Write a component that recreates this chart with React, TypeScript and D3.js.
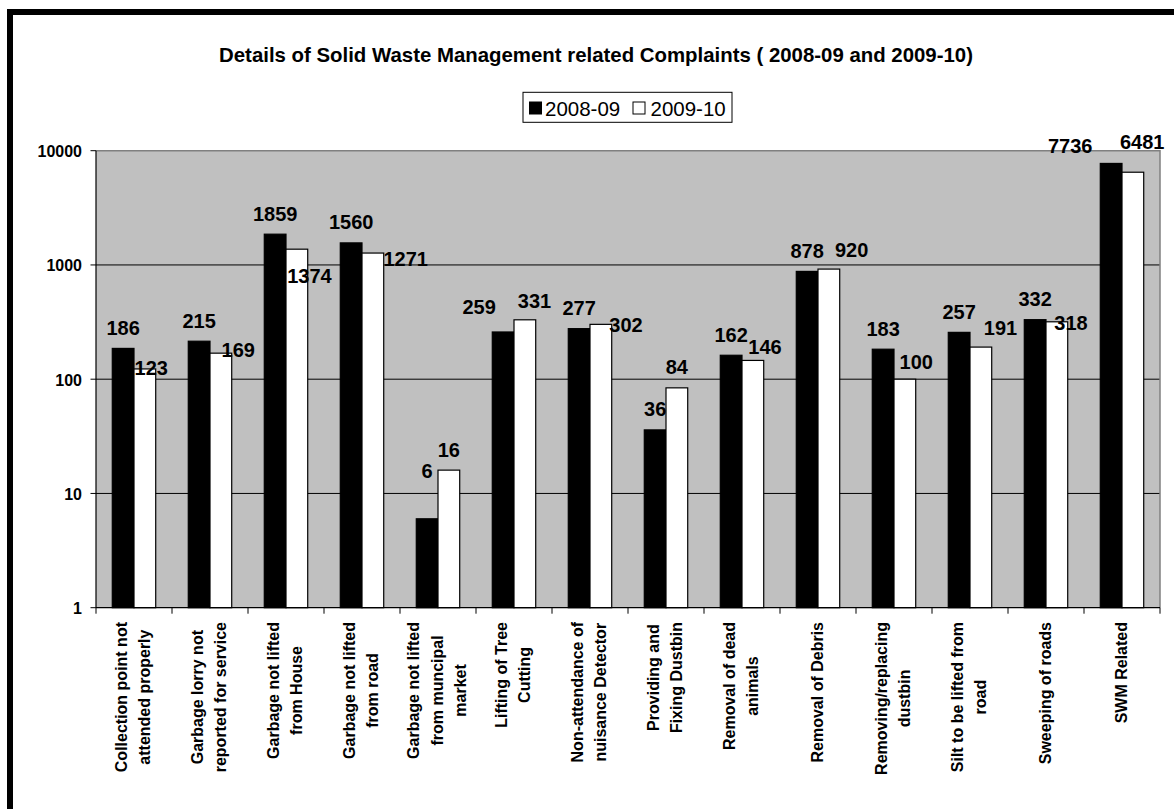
import React, { useEffect, useRef } from "react";
import * as d3 from "d3";

const categoryLines: string[][] = [
  ["Collection point not", "attended properly"],
  ["Garbage lorry not", "reported for service"],
  ["Garbage not lifted", "from House"],
  ["Garbage not lifted", "from road"],
  ["Garbage not lifted", "from muncipal", "market"],
  ["Lifting of Tree", "Cutting"],
  ["Non-attendance of", "nuisance Detector"],
  ["Providing and", "Fixing Dustbin"],
  ["Removal of dead", "animals"],
  ["Removal of Debris"],
  ["Removing/replacing", "dustbin"],
  ["Silt to be lifted from", "road"],
  ["Sweeping of roads"],
  ["SWM Related"],
];

const values2008 = [186, 215, 1859, 1560, 6, 259, 277, 36, 162, 878, 183, 257, 332, 7736];
const values2009 = [123, 169, 1374, 1271, 16, 331, 302, 84, 146, 920, 100, 191, 318, 6481];
const seriesNames = ["2008-09", "2009-10"];
const yTickValues = [1, 10, 100, 1000, 10000];
const titleText = "Details of Solid Waste Management related Complaints ( 2008-09 and 2009-10)";

// label placement nudges (pixels) relative to the default "outside end" spot
const nudge2008: [number, number][] = [
  [0, 0], [0, 0], [0, 0], [0, 0], [0, -27], [-24, -4.5], [0, 0],
  [0, 0], [0, 0], [0, 0], [0, 0], [0, 0], [0, 0], [-41, 3],
];
const nudge2009: [number, number][] = [
  [6.4, 19.6], [17.4, 17.2], [12.6, 47.6], [32.9, 26.4], [0, 0], [9.6, 1.4], [25.1, 21.5],
  [0, 0], [12.1, 7.1], [22.8, 1.7], [11.4, 3.6], [19.6, 1.4], [14.1, 21.8], [9.4, -9.7],
];

const FONT = "'Liberation Sans', Arial, Helvetica, sans-serif";
const W = 1174;
const H = 809;

export default function App() {
  const ref = useRef<SVGSVGElement | null>(null);

  useEffect(() => {
    const svg = d3.select(ref.current);
    svg.selectAll("*").remove();

    const left = 96, right = 1160, top = 150.7, bottom = 607.7;

    const x = d3.scaleBand<number>().domain(d3.range(categoryLines.length)).range([left, right]).padding(0);
    const x1 = d3.scaleBand<string>().domain(seriesNames).range([0, x.bandwidth()]).paddingInner(0).paddingOuter(0.75);
    const y = d3.scaleLog().domain([1, 10000]).range([bottom, top]);

    // outer frame
    svg.append("rect").attr("x", 10).attr("y", 12).attr("width", 1200).attr("height", 900)
      .attr("fill", "white").attr("stroke", "black").attr("stroke-width", 6);

    // title
    svg.append("text").attr("x", 596).attr("y", 61.7).attr("text-anchor", "middle")
      .attr("font-family", FONT).attr("font-weight", "bold").attr("font-size", 20.4)
      .text(titleText);

    // legend
    const lg = svg.append("g");
    lg.append("rect").attr("x", 523).attr("y", 92.3).attr("width", 209).attr("height", 30)
      .attr("fill", "white").attr("stroke", "black").attr("stroke-width", 1);
    const legendItems = [
      { name: seriesNames[0], fill: "black", sx: 529.5, tx: 545 },
      { name: seriesNames[1], fill: "white", sx: 633, tx: 650.5 },
    ];
    legendItems.forEach((it) => {
      lg.append("rect").attr("x", it.sx).attr("y", 102).attr("width", 12).attr("height", 12)
        .attr("fill", it.fill).attr("stroke", "black").attr("stroke-width", 1);
      lg.append("text").attr("x", it.tx).attr("y", 115.5).attr("font-family", FONT)
        .attr("font-size", 20.5).text(it.name);
    });

    // plot area
    svg.append("rect").attr("x", left).attr("y", top).attr("width", right - left).attr("height", bottom - top)
      .attr("fill", "#C0C0C0");

    // gridlines
    svg.append("g").selectAll("line").data(yTickValues.filter((v) => v > 1 && v < 10000)).join("line")
      .attr("x1", left).attr("x2", right).attr("y1", (d) => y(d)).attr("y2", (d) => y(d))
      .attr("stroke", "black").attr("stroke-width", 1);

    // plot border top/right
    svg.append("path").attr("d", `M${left},${top}H${right}V${bottom}`).attr("fill", "none")
      .attr("stroke", "#808080").attr("stroke-width", 1.5);

    // bars
    const seriesData = [values2008, values2009];
    const fills = ["black", "white"];
    seriesData.forEach((vals, si) => {
      svg.append("g").selectAll("rect").data(vals).join("rect")
        .attr("x", (_d, i) => (x(i) as number) + (x1(seriesNames[si]) as number))
        .attr("y", (d) => y(d))
        .attr("width", x1.bandwidth())
        .attr("height", (d) => bottom - y(d))
        .attr("fill", fills[si]).attr("stroke", "black").attr("stroke-width", 1.2);
    });

    // axes
    svg.append("line").attr("x1", left).attr("x2", left).attr("y1", top).attr("y2", bottom)
      .attr("stroke", "black").attr("stroke-width", 1.2);
    svg.append("line").attr("x1", left).attr("x2", right).attr("y1", bottom).attr("y2", bottom)
      .attr("stroke", "black").attr("stroke-width", 1.2);

    // y ticks + labels
    const yt = svg.append("g");
    yTickValues.forEach((v) => {
      yt.append("line").attr("x1", left - 5.5).attr("x2", left).attr("y1", y(v)).attr("y2", y(v))
        .attr("stroke", "black").attr("stroke-width", 1);
      yt.append("text").attr("x", 82).attr("y", y(v) + 6.5).attr("text-anchor", "end")
        .attr("font-family", FONT).attr("font-weight", "bold").attr("font-size", 16)
        .text(String(v));
    });

    // x ticks
    const xt = svg.append("g");
    d3.range(categoryLines.length + 1).forEach((i) => {
      const xx = left + i * x.step();
      xt.append("line").attr("x1", xx).attr("x2", xx).attr("y1", bottom).attr("y2", bottom + 6)
        .attr("stroke", "black").attr("stroke-width", 1);
    });

    // category labels
    const lineGap = 23.5;
    const labelTop = 622;
    categoryLines.forEach((lines, i) => {
      const cx = (x(i) as number) + x.bandwidth() / 2;
      const g = svg.append("g");
      const texts = lines.map((ln) =>
        g.append("text").attr("font-family", FONT).attr("font-weight", "bold").attr("font-size", 16)
          .attr("text-anchor", "middle").text(ln)
      );
      const maxLen = d3.max(texts, (t) => (t.node() as SVGTextElement).getComputedTextLength()) || 0;
      const cy = labelTop + maxLen / 2;
      const n = lines.length;
      texts.forEach((t, j) => {
        const xb = cx + (j - (n - 1) / 2) * lineGap + 4.5;
        t.attr("transform", `translate(${xb},${cy}) rotate(-90)`);
      });
    });

    // data labels
    const nudges = [nudge2008, nudge2009];
    seriesData.forEach((vals, si) => {
      svg.append("g").selectAll("text").data(vals).join("text")
        .attr("x", (_d, i) => (x(i) as number) + (x1(seriesNames[si]) as number) + x1.bandwidth() / 2 + nudges[si][i][0])
        .attr("y", (d, i) => y(d) - 13.5 + nudges[si][i][1])
        .attr("text-anchor", "middle")
        .attr("font-family", FONT).attr("font-weight", "bold").attr("font-size", 20)
        .text((d) => String(d));
    });
  }, []);

  return (
    <svg
      ref={ref}
      width={W}
      height={H}
      style={{ position: "absolute", left: 0, top: 0, background: "white" }}
    />
  );
}
